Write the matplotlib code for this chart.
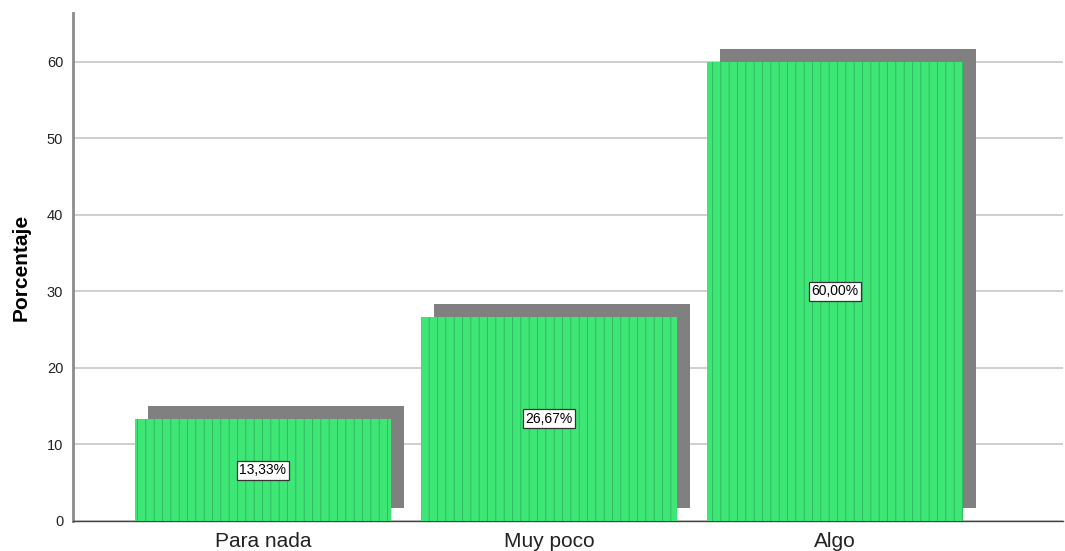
import matplotlib
matplotlib.use("Agg")
import matplotlib.pyplot as plt
import matplotlib.transforms as mtransforms

categories = ["Para nada", "Muy poco", "Algo"]
percentages = [13.33, 26.67, 60.00]
value_labels = ["13,33%", "26,67%", "60,00%"]
y_ticks = [0, 10, 20, 30, 40, 50, 60]

plt.rcParams["font.family"] = ["Liberation Sans", "DejaVu Sans"]
plt.rcParams["hatch.linewidth"] = 0.5

fig = plt.figure(figsize=(10.65, 5.51), dpi=100)
ax = fig.add_axes([73 / 1065, 30 / 551, (1063 - 73) / 1065, (521 - 13) / 551])

x = list(range(len(categories)))
bar_w = 0.895

# drop shadow: same bars, shifted right and up by a fixed pixel offset
shadow_tf = ax.transData + mtransforms.ScaledTranslation(0.13, 0.13, fig.dpi_scale_trans)
ax.bar(x, percentages, width=bar_w, color="#808080", edgecolor="none",
       transform=shadow_tf, zorder=2)

# green bars with a fine vertical line pattern (hatch takes the edge colour)
ax.bar(x, percentages, width=bar_w, color="#3ee676", edgecolor="#2aa85c",
       linewidth=0, hatch="||", zorder=3)

for xi, v, lab in zip(x, percentages, value_labels):
    ax.text(xi, v / 2, lab, ha="center", va="center", fontsize=10, zorder=5,
            bbox=dict(boxstyle="square,pad=0.18", facecolor="white",
                      edgecolor="#333333", linewidth=0.9))

ax.set_xlim(-0.664, 2.797)
ax.set_ylim(0, 66.4)
ax.set_yticks(y_ticks)
ax.set_xticks(x)
ax.set_xticklabels(categories, fontsize=15, color="#222222")
ax.tick_params(axis="y", length=0, pad=7, labelsize=10.5, labelcolor="#222222")
ax.tick_params(axis="x", length=0, pad=8)

ax.yaxis.grid(True, color="#cccccc", linewidth=1.3, zorder=1)
ax.set_axisbelow(True)

for s in ["top", "right"]:
    ax.spines[s].set_visible(False)
ax.spines["left"].set_color("#8c8c8c")
ax.spines["left"].set_linewidth(2)
ax.spines["bottom"].set_color("#444444")
ax.spines["bottom"].set_linewidth(1)

ax.set_ylabel("Porcentaje", fontsize=15, fontweight="bold", labelpad=12)

fig.savefig("out.png", dpi=100)
